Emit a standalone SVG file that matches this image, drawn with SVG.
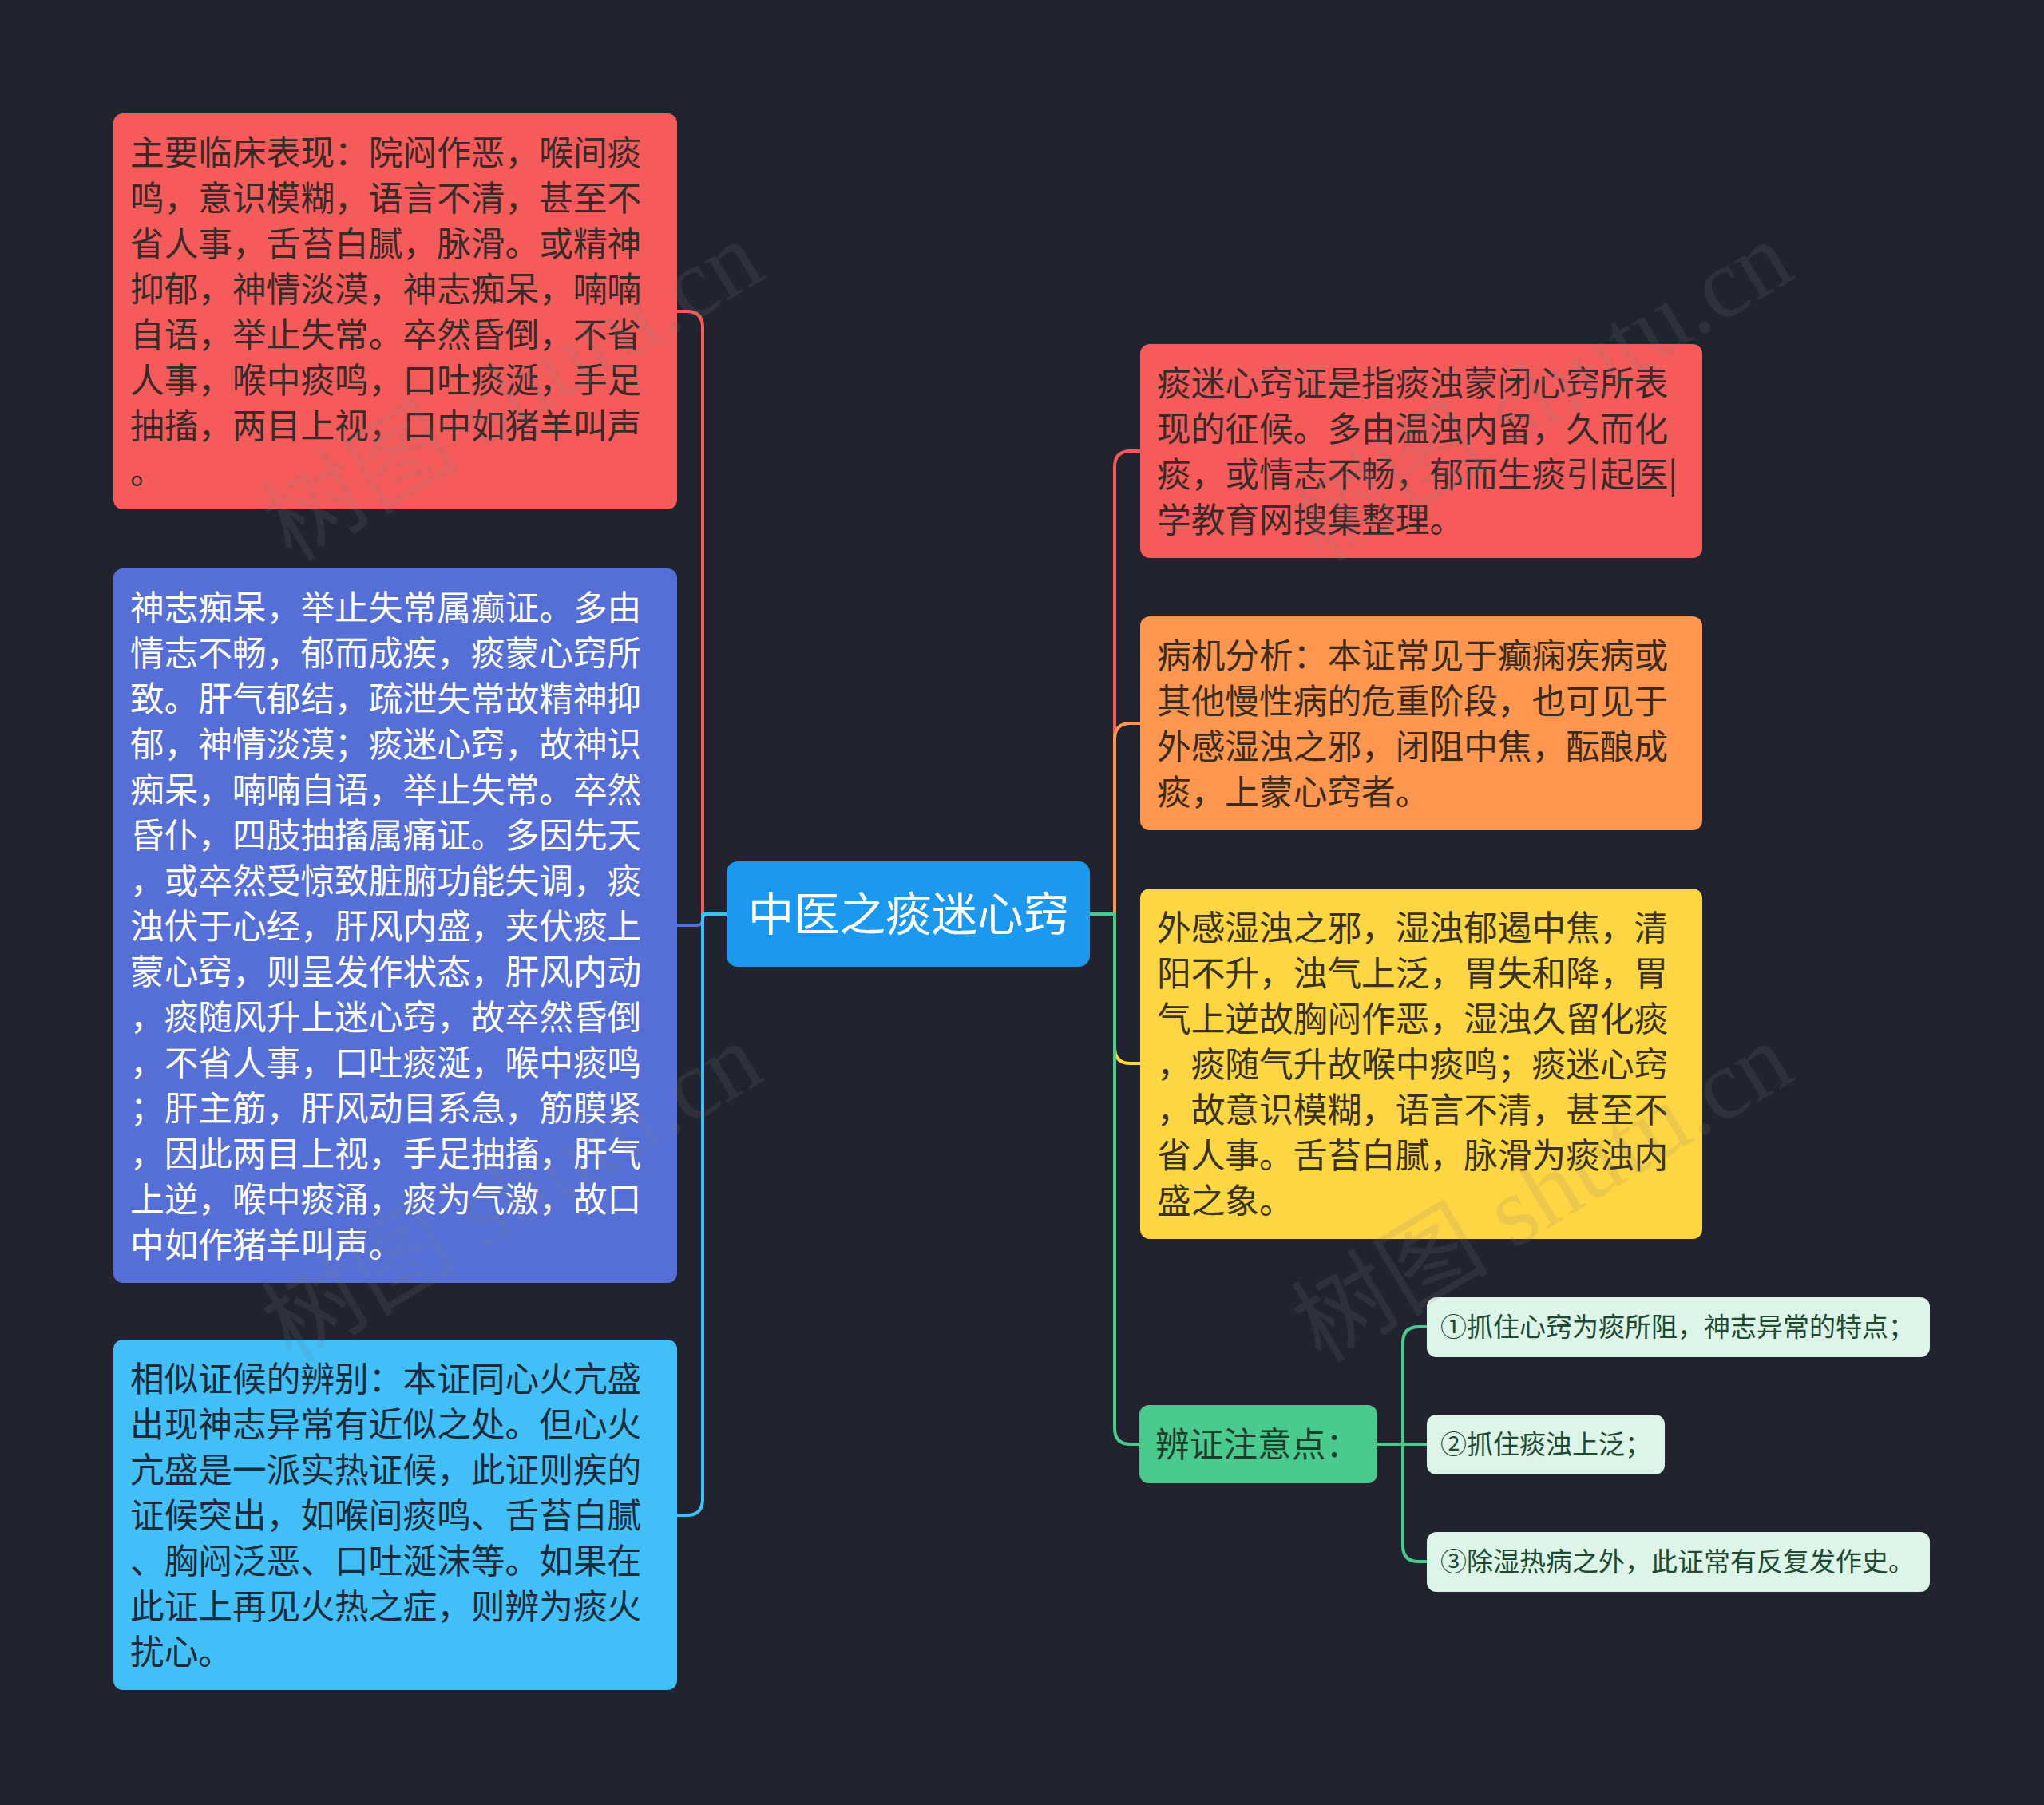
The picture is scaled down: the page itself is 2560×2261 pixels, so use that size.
<svg xmlns="http://www.w3.org/2000/svg" width="2560" height="2261" viewBox="0 0 2560 2261">
<style>
.t{font-family:"Noto Sans CJK SC","Noto Sans",sans-serif;font-size:42.7px}
.dk{fill:#3a2a2a}
.wh{fill:#ffffff}
.lb{fill:#1b2b3a}
.og{fill:#3d2b1e}
.yl{fill:#3a3320}
.gn{fill:#1b3f2b}
.sb{font-family:"Noto Sans CJK SC","Noto Sans",sans-serif;font-size:33px;fill:#1d4a30}
.c{fill:none;stroke-width:4;stroke-linecap:round;stroke-linejoin:round}
.wm{font-family:"Liberation Serif","Noto Sans CJK SC",serif;font-size:124px;fill:#808080;opacity:0.14}
</style>
<rect x="0" y="0" width="2560" height="2261" fill="#21242f"/>
<g id="connectors">
<path class="c" stroke="#f65b5b" d="M910 1145 H880 V410 Q880 390 860 390 H848"/>
<path class="c" stroke="#556fd6" d="M910 1145 H887 Q880 1145 880 1152 Q880 1159 873 1159 H848"/>
<path class="c" stroke="#42bff7" d="M910 1145 H880 V1878 Q880 1898 860 1898 H848"/>
<path class="c" stroke="#f65b5b" d="M1365 1145 H1396 V585 Q1396 565 1416 565 H1428"/>
<path class="c" stroke="#fd964f" d="M1365 1145 H1396 V926 Q1396 906 1416 906 H1428"/>
<path class="c" stroke="#fed543" d="M1365 1145 H1396 V1312 Q1396 1332 1416 1332 H1428"/>
<path class="c" stroke="#4acb8d" d="M1365 1145 H1396 V1789 Q1396 1809 1416 1809 H1428"/>
<path class="c" stroke="#4acb8d" d="M1725 1809 H1757 V1682 Q1757 1662 1777 1662 H1787"/>
<path class="c" stroke="#4acb8d" d="M1725 1809 H1787"/>
<path class="c" stroke="#4acb8d" d="M1725 1809 H1757 V1936 Q1757 1956 1777 1956 H1787"/>
</g>
<g id="center">
<rect x="910" y="1079" width="455" height="132" rx="14" fill="#1c99ef"/>
<text class="t wh" x="1138" y="1166" text-anchor="middle" style="font-size:57.5px">中医之痰迷心窍</text>
</g>
<g id="node-left-1">
<rect x="142" y="142" width="706" height="496" rx="12" fill="#f65b5b"/>
<text class="t dk">
<tspan x="163" y="207">主要临床表现：院闷作恶，喉间痰</tspan>
<tspan x="163" y="264">鸣，意识模糊，语言不清，甚至不</tspan>
<tspan x="163" y="321">省人事，舌苔白腻，脉滑。或精神</tspan>
<tspan x="163" y="378">抑郁，神情淡漠，神志痴呆，喃喃</tspan>
<tspan x="163" y="435">自语，举止失常。卒然昏倒，不省</tspan>
<tspan x="163" y="492">人事，喉中痰鸣，口吐痰涎，手足</tspan>
<tspan x="163" y="549">抽搐，两目上视，口中如猪羊叫声</tspan>
<tspan x="163" y="606">。</tspan>
</text>
</g>
<g id="node-left-2">
<rect x="142" y="712" width="706" height="895" rx="12" fill="#556fd6"/>
<text class="t wh">
<tspan x="163" y="777">神志痴呆，举止失常属癫证。多由</tspan>
<tspan x="163" y="834">情志不畅，郁而成疾，痰蒙心窍所</tspan>
<tspan x="163" y="891">致。肝气郁结，疏泄失常故精神抑</tspan>
<tspan x="163" y="948">郁，神情淡漠；痰迷心窍，故神识</tspan>
<tspan x="163" y="1005">痴呆，喃喃自语，举止失常。卒然</tspan>
<tspan x="163" y="1062">昏仆，四肢抽搐属痛证。多因先天</tspan>
<tspan x="163" y="1119">，或卒然受惊致脏腑功能失调，痰</tspan>
<tspan x="163" y="1176">浊伏于心经，肝风内盛，夹伏痰上</tspan>
<tspan x="163" y="1233">蒙心窍，则呈发作状态，肝风内动</tspan>
<tspan x="163" y="1290">，痰随风升上迷心窍，故卒然昏倒</tspan>
<tspan x="163" y="1347">，不省人事，口吐痰涎，喉中痰鸣</tspan>
<tspan x="163" y="1404">；肝主筋，肝风动目系急，筋膜紧</tspan>
<tspan x="163" y="1461">，因此两目上视，手足抽搐，肝气</tspan>
<tspan x="163" y="1518">上逆，喉中痰涌，痰为气激，故口</tspan>
<tspan x="163" y="1575">中如作猪羊叫声。</tspan>
</text>
</g>
<g id="node-left-3">
<rect x="142" y="1678" width="706" height="439" rx="12" fill="#42bff7"/>
<text class="t lb">
<tspan x="163" y="1743">相似证候的辨别：本证同心火亢盛</tspan>
<tspan x="163" y="1800">出现神志异常有近似之处。但心火</tspan>
<tspan x="163" y="1857">亢盛是一派实热证候，此证则疾的</tspan>
<tspan x="163" y="1914">证候突出，如喉间痰鸣、舌苔白腻</tspan>
<tspan x="163" y="1971">、胸闷泛恶、口吐涎沫等。如果在</tspan>
<tspan x="163" y="2028">此证上再见火热之症，则辨为痰火</tspan>
<tspan x="163" y="2085">扰心。</tspan>
</text>
</g>
<g id="node-right-1">
<rect x="1428" y="431" width="704" height="268" rx="12" fill="#f65b5b"/>
<text class="t dk">
<tspan x="1449" y="496">痰迷心窍证是指痰浊蒙闭心窍所表</tspan>
<tspan x="1449" y="553">现的征候。多由温浊内留，久而化</tspan>
<tspan x="1449" y="610">痰，或情志不畅，郁而生痰引起医|</tspan>
<tspan x="1449" y="667">学教育网搜集整理。</tspan>
</text>
</g>
<g id="node-right-2">
<rect x="1428" y="772" width="704" height="268" rx="12" fill="#fd964f"/>
<text class="t og">
<tspan x="1449" y="837">病机分析：本证常见于癫痫疾病或</tspan>
<tspan x="1449" y="894">其他慢性病的危重阶段，也可见于</tspan>
<tspan x="1449" y="951">外感湿浊之邪，闭阻中焦，酝酿成</tspan>
<tspan x="1449" y="1008">痰，上蒙心窍者。</tspan>
</text>
</g>
<g id="node-right-3">
<rect x="1428" y="1113" width="704" height="439" rx="12" fill="#fed543"/>
<text class="t yl">
<tspan x="1449" y="1178">外感湿浊之邪，湿浊郁遏中焦，清</tspan>
<tspan x="1449" y="1235">阳不升，浊气上泛，胃失和降，胃</tspan>
<tspan x="1449" y="1292">气上逆故胸闷作恶，湿浊久留化痰</tspan>
<tspan x="1449" y="1349">，痰随气升故喉中痰鸣；痰迷心窍</tspan>
<tspan x="1449" y="1406">，故意识模糊，语言不清，甚至不</tspan>
<tspan x="1449" y="1463">省人事。舌苔白腻，脉滑为痰浊内</tspan>
<tspan x="1449" y="1520">盛之象。</tspan>
</text>
</g>
<g id="node-right-4">
<rect x="1427" y="1760" width="298" height="98" rx="12" fill="#4acb8d"/>
<text class="t gn" x="1447" y="1825">辨证注意点：</text>
</g>
<g id="sub-1">
<rect x="1787" y="1625" width="630" height="75" rx="12" fill="#dcf5e8"/>
<text class="sb" x="1804" y="1674">①抓住心窍为痰所阻，神志异常的特点；</text>
</g>
<g id="sub-2">
<rect x="1787" y="1772" width="298" height="75" rx="12" fill="#dcf5e8"/>
<text class="sb" x="1804" y="1821">②抓住痰浊上泛；</text>
</g>
<g id="sub-3">
<rect x="1787" y="1919" width="630" height="75" rx="12" fill="#dcf5e8"/>
<text class="sb" x="1804" y="1968">③除湿热病之外，此证常有反复发作史。</text>
</g>
<g id="watermark">
<text class="wm" transform="translate(365,705) rotate(-31)">树图 shutu.cn</text>
<text class="wm" transform="translate(1655,705) rotate(-31)">树图 shutu.cn</text>
<text class="wm" transform="translate(365,1709) rotate(-31)">树图 shutu.cn</text>
<text class="wm" transform="translate(1655,1709) rotate(-31)">树图 shutu.cn</text>
</g>
</svg>
